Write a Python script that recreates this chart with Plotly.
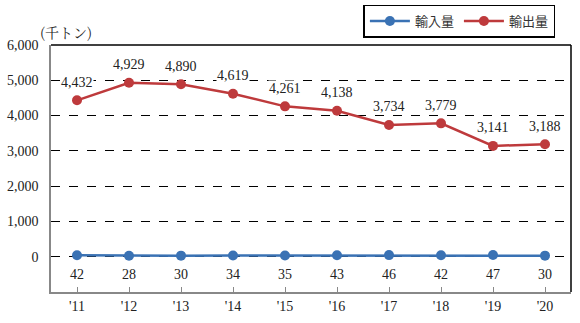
import plotly.graph_objects as go

years = ["'11", "'12", "'13", "'14", "'15", "'16", "'17", "'18", "'19", "'20"]
imports = [42, 28, 30, 34, 35, 43, 46, 42, 47, 30]
exports = [4432, 4929, 4890, 4619, 4261, 4138, 3734, 3779, 3141, 3188]
series_names = ["輸入量", "輸出量"]
y_ticks = [0, 1000, 2000, 3000, 4000, 5000, 6000]
y_tick_text = ["0", "1,000", "2,000", "3,000", "4,000", "5,000", "6,000"]

blue = "#3A72B4"
red = "#BE3A3C"
num_font = dict(family="'Liberation Serif', 'DejaVu Serif', serif", size=14, color="#222")

fig = go.Figure()
fig.add_trace(go.Scatter(x=years, y=imports, name=series_names[0], mode="lines+markers",
                         line=dict(color=blue, width=2.5), marker=dict(size=10, color=blue)))
fig.add_trace(go.Scatter(x=years, y=exports, name=series_names[1], mode="lines+markers",
                         line=dict(color=red, width=2.5), marker=dict(size=10, color=red)))

annotations = []
for x, v in zip(years, exports):
    annotations.append(dict(x=x, y=v, text=f"{v:,}", showarrow=False, yshift=18,
                            font=num_font, bgcolor="white", borderpad=0))
for x, v in zip(years, imports):
    annotations.append(dict(x=x, y=v, text=f"{v:,}", showarrow=False, yshift=-19,
                            font=num_font, bgcolor="white", borderpad=0))
annotations.append(dict(x=-0.025, y=1.0, xref="paper", yref="paper", xanchor="left", yanchor="bottom",
                        text="(千トン)", showarrow=False, yshift=1,
                        font=dict(family="Noto Serif CJK JP, Noto Sans CJK JP", size=14, color="#222")))

fig.update_layout(
    width=580, height=323,
    margin=dict(l=51, r=9, t=45, b=31, autoexpand=False),
    paper_bgcolor="white", plot_bgcolor="white",
    showlegend=True,
    legend=dict(orientation="h", x=0.97, y=1.097, xanchor="right", yanchor="middle",
                bordercolor="black", borderwidth=1.5, bgcolor="white",
                font=dict(family="Noto Sans CJK JP", size=13, color="#333"),
                itemwidth=40, tracegroupgap=0),
    annotations=annotations,
    shapes=[
        dict(type="line", xref="paper", yref="paper", x0=0, x1=1, y0=1, y1=1,
             line=dict(color="black", width=1.5)),
        dict(type="line", xref="paper", yref="paper", x0=1, x1=1, y0=0, y1=1,
             line=dict(color="black", width=1.5)),
    ],
)
fig.update_xaxes(type="category", range=[-0.5, 9.5], showline=True, linecolor="#888", linewidth=1.5,
                 ticks="inside", ticklen=5, tickcolor="#888", showgrid=False,
                 tickfont=num_font)
fig.update_yaxes(range=[-1000, 6000], tickvals=y_ticks, ticktext=y_tick_text,
                 showline=True, linecolor="#888", linewidth=1.5,
                 showgrid=True, gridcolor="black", griddash="dash", gridwidth=1.2,
                 zeroline=False, ticks="", ticklabelstandoff=8, tickfont=num_font)

fig.write_html("out.html")
